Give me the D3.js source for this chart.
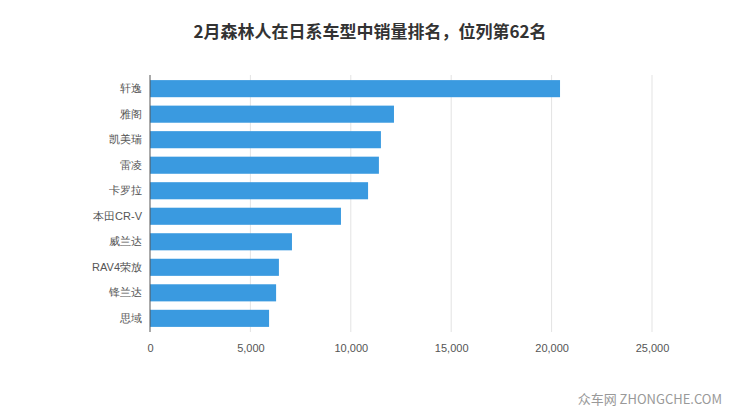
<!DOCTYPE html>
<html>
<head>
<meta charset="utf-8">
<script src="https://cdn.jsdelivr.net/npm/d3@7"></script>
<style>
  body { margin: 0; background: #fff; font-family: "Noto Sans CJK SC", "Noto Sans", sans-serif; }
  .axis text { fill: #555; font-size: 11px; }
  .axis path, .axis line { stroke: none; }
</style>
</head>
<body>
<div id="chart"></div>
<script>
var models = ["轩逸", "雅阁", "凯美瑞", "雷凌", "卡罗拉", "本田CR-V", "威兰达", "RAV4荣放", "锋兰达", "思域"];
var sales = [20420, 12150, 11500, 11400, 10860, 9510, 7070, 6420, 6280, 5930];
var ticks = [0, 5000, 10000, 15000, 20000, 25000];

var width = 740, height = 417;
var margin = { top: 75, right: 88, bottom: 85, left: 150 };
var w = width - margin.left - margin.right,
    h = height - margin.top - margin.bottom;

var svg = d3.select('#chart').append('svg')
    .attr('width', width).attr('height', height);

svg.append('text')
    .attr('x', width / 2).attr('y', 38)
    .attr('text-anchor', 'middle')
    .attr('font-size', 17).attr('font-weight', 'bold').attr('fill', '#333')
    .text('2月森林人在日系车型中销量排名，位列第62名');

var g = svg.append('g')
    .attr('transform', 'translate(' + margin.left + ',' + margin.top + ')');

var x = d3.scaleLinear().domain([0, 25000]).range([0, w]);
var y = d3.scaleBand().domain(models).range([0, h]).paddingInner(0.33).paddingOuter(0.2);

// gridlines
g.selectAll('.grid').data(ticks.slice(1)).enter().append('line')
    .attr('x1', function(d) { return x(d); }).attr('x2', function(d) { return x(d); })
    .attr('y1', 0).attr('y2', h)
    .attr('stroke', '#e3e3e3');

g.selectAll('.bar').data(models).enter().append('rect')
    .attr('x', 0)
    .attr('y', function(d) { return y(d); })
    .attr('height', y.bandwidth())
    .attr('width', function(d, i) { return x(sales[i]); })
    .attr('fill', '#3a9ae0');

g.append('g').attr('class', 'axis')
    .attr('transform', 'translate(0,' + (h + 6) + ')')
    .call(d3.axisBottom(x).tickValues(ticks).tickFormat(d3.format(',')).tickSize(0).tickPadding(6));

g.append('g').attr('class', 'axis')
    .call(d3.axisLeft(y).tickSize(0).tickPadding(8));

g.append('line')
    .attr('x1', 0).attr('x2', 0).attr('y1', 0).attr('y2', h)
    .attr('stroke', '#555');

svg.append('text')
    .attr('x', 722).attr('y', 404)
    .attr('text-anchor', 'end')
    .attr('font-size', 13).attr('fill', '#999')
    .text('众车网 ZHONGCHE.COM');
</script>
</body>
</html>
